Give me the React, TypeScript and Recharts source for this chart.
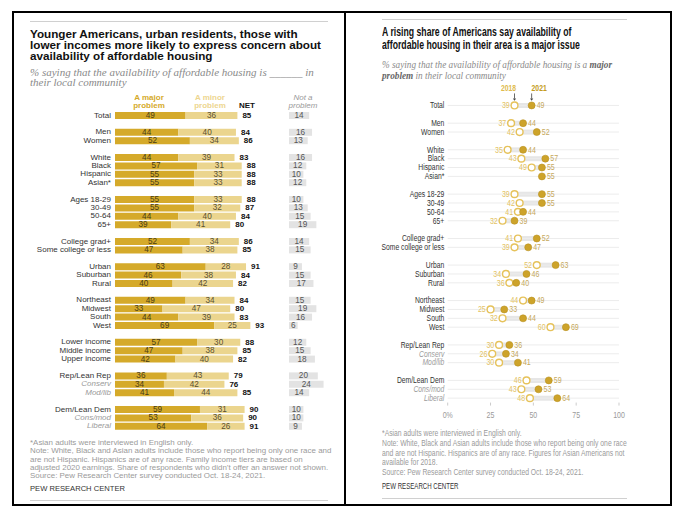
import React from 'react';
import { BarChart, Bar, XAxis, YAxis, LabelList, ComposedChart, Line, ReferenceLine } from 'recharts';

// ---------- Left chart data ----------
const leftLabels = ['Total', 'Men', 'Women', 'White', 'Black', 'Hispanic', 'Asian*', 'Ages 18-29', '30-49', '50-64', '65+', 'College grad+', 'Some college or less', 'Urban', 'Suburban', 'Rural', 'Northeast', 'Midwest', 'South', 'West', 'Lower income', 'Middle income', 'Upper income', 'Rep/Lean Rep', 'Conserv', 'Mod/lib', 'Dem/Lean Dem', 'Cons/mod', 'Liberal'];
const leftGroupSizes = [1, 2, 4, 4, 2, 3, 4, 3, 3, 3];
const majorProblem = [49, 44, 52, 44, 57, 55, 55, 55, 55, 44, 39, 52, 47, 63, 46, 40, 49, 33, 44, 69, 57, 47, 42, 36, 34, 41, 59, 53, 64];
const minorProblem = [36, 40, 34, 39, 31, 33, 33, 33, 32, 40, 41, 34, 38, 28, 38, 42, 34, 47, 39, 25, 30, 38, 40, 43, 42, 44, 31, 36, 26];
const netProblem = [85, 84, 86, 83, 88, 88, 88, 88, 87, 84, 80, 86, 85, 91, 84, 82, 84, 80, 83, 93, 88, 85, 82, 79, 76, 85, 90, 90, 91];
const notProblem = [14, 16, 13, 16, 12, 10, 12, 10, 13, 15, 19, 14, 15, 9, 15, 17, 15, 19, 16, 6, 12, 15, 18, 20, 24, 14, 10, 10, 9];

// ---------- Right chart data ----------
const rightLabels = ['Total', 'Men', 'Women', 'White', 'Black', 'Hispanic', 'Asian*', 'Ages 18-29', '30-49', '50-64', '65+', 'College grad+', 'Some college or less', 'Urban', 'Suburban', 'Rural', 'Northeast', 'Midwest', 'South', 'West', 'Rep/Lean Rep', 'Conserv', 'Mod/lib', 'Dem/Lean Dem', 'Cons/mod', 'Liberal'];
const rightGroupSizes = [1, 2, 4, 4, 2, 3, 4, 3, 3];
const major2018 = [39, 37, 42, 35, 43, 49, null, 39, 42, 41, 32, 41, 39, 52, 34, 36, 44, 25, 32, 60, 30, 26, 30, 46, 43, 48];
const major2021 = [49, 44, 52, 44, 57, 55, 55, 55, 55, 44, 39, 52, 47, 63, 46, 40, 49, 33, 44, 69, 36, 34, 41, 59, 53, 64];
const xTicks = [0, 25, 50, 75, 100];

const italicLabels = ['Conserv', 'Mod/lib', 'Cons/mod', 'Liberal'];

function buildRows(labels: string[], sizes: number[], fields: (i: number) => any) {
  const rows: any[] = [];
  let idx = 0;
  sizes.forEach((s, gi) => {
    if (gi > 0) rows.push({ key: `gap${gi}`, gap: true });
    for (let k = 0; k < s; k++) {
      rows.push({ key: labels[idx], ...fields(idx) });
      idx++;
    }
  });
  return rows;
}

const leftRows = buildRows(leftLabels, leftGroupSizes, (i) => ({
  major: majorProblem[i],
  minor: minorProblem[i],
  net: netProblem[i],
  notp: notProblem[i],
}));

const rightRows = buildRows(rightLabels, rightGroupSizes, (i) => ({
  y2018: major2018[i],
  y2021: major2021[i],
  range: major2018[i] == null ? null : [major2018[i], major2021[i]],
}));

const SANS = "'Liberation Sans', Arial, sans-serif";
const SERIF = "'Liberation Serif', 'DejaVu Serif', serif";
const SX = 0.75; // horizontal compression of the right-hand panel text

const C_MAJOR = '#D5AA2A';
const C_MINOR = '#EBD58E';
const C_NOT = '#E3E3E3';
const C_2018 = '#E6C25A';
const C_2021 = '#CDA32A';

const SText = ({ x, y, sx = SX, children, ...rest }: any) => (
  <text transform={`translate(${x},${y}) scale(${sx},1)`} x={0} y={0} fontFamily={SANS} {...rest}>{children}</text>
);

const LeftTick = (props: any) => {
  const { y, payload } = props;
  const v = String(payload.value);
  if (v.startsWith('gap')) return <g />;
  const it = italicLabels.includes(v);
  return (
    <text x={96} y={y} textAnchor="end" dominantBaseline="central" fontSize={8} fontFamily={SANS}
      fill={it ? '#9a9a9a' : '#333'} fontStyle={it ? 'italic' : 'normal'}>{v}</text>
  );
};

const RightTick = (props: any) => {
  const { y, payload } = props;
  const v = String(payload.value);
  if (v.startsWith('gap')) return <g />;
  const it = italicLabels.includes(v);
  return (
    <SText x={72.3} y={y} sx={0.77} textAnchor="end" dominantBaseline="central" fontSize={8.8}
      fill={it ? '#9a9a9a' : '#333'} fontStyle={it ? 'italic' : 'normal'}>{v}</SText>
  );
};

const XTick = (props: any) => {
  const { x, y, payload } = props;
  const v = Number(payload.value);
  return (
    <SText x={x} y={y} sx={0.78} textAnchor="middle" dy="0.71em" fontSize={9} fill="#9a9a9a">{v === 0 ? '0%' : String(v)}</SText>
  );
};

const CenterLabel = (color: string) => (p: any) => {
  const { x, y, width, height, value } = p;
  if (value == null) return null;
  return (
    <text x={x + width / 2} y={y + height / 2} textAnchor="middle" dominantBaseline="central"
      fontSize={8.2} fontFamily={SANS} fill={color}>{value}</text>
  );
};

const NetLabel = (p: any) => {
  const { x, y, width, height, value } = p;
  if (value == null) return null;
  return (
    <text x={x + width + 5} y={y + height / 2} dominantBaseline="central" fontSize={8} fontWeight="bold"
      fontFamily={SANS} fill="#111">{value}</text>
  );
};

const Arrow = ({ cx, cy }: any) => (
  <g>
    <line x1={cx} x2={cx} y1={cy - 12} y2={cy - 6.8} stroke="#444" strokeWidth={0.8} />
    <polygon points={`${cx - 1.6},${cy - 7} ${cx + 1.6},${cy - 7} ${cx},${cy - 4.6}`} fill="#444" />
  </g>
);

const Dot2018 = (p: any) => {
  const { cx, cy, payload, index } = p;
  if (cx == null || cy == null || payload.y2018 == null) return <g key={`d18-${index}`} />;
  return (
    <g key={`d18-${index}`}>
      <circle cx={cx} cy={cy} r={3.4} fill="#fff" stroke={C_2018} strokeWidth={1.4} />
      <SText x={cx - 4.8} y={cy} sx={0.8} textAnchor="end" dominantBaseline="central" fontSize={8.8} fill="#E3C263">{payload.y2018}</SText>
      {payload.key === 'Total' && (
        <g>
          <Arrow cx={cx} cy={cy} />
          <SText x={cx - 6} y={cy - 17.7} sx={0.72} textAnchor="middle" dominantBaseline="central" fontSize={9.5} fontWeight="bold" fill="#E0BC4E">2018</SText>
        </g>
      )}
    </g>
  );
};

const Dot2021 = (p: any) => {
  const { cx, cy, payload, index } = p;
  if (cx == null || cy == null || payload.y2021 == null) return <g key={`d21-${index}`} />;
  return (
    <g key={`d21-${index}`}>
      <circle cx={cx} cy={cy} r={3.5} fill={C_2021} stroke="#B8911E" strokeWidth={0.6} />
      <SText x={cx + 5} y={cy} sx={0.8} textAnchor="start" dominantBaseline="central" fontSize={8.8} fill="#C5A85C">{payload.y2021}</SText>
      {payload.key === 'Total' && (
        <g>
          <Arrow cx={cx} cy={cy} />
          <SText x={cx + 7.5} y={cy - 17.7} sx={0.72} textAnchor="middle" dominantBaseline="central" fontSize={9.5} fontWeight="bold" fill="#C49C22">2021</SText>
        </g>
      )}
    </g>
  );
};

const abs = (s: React.CSSProperties): React.CSSProperties => ({ position: 'absolute', margin: 0, whiteSpace: 'nowrap', ...s });
const squeeze = (k: number): React.CSSProperties => ({ transform: `scaleX(${k})`, transformOrigin: 'left top' });

export default function App() {
  const leftSlot = 8.4;
  const leftH = leftRows.length * leftSlot;
  const rightSlot = 8.87;
  const rightH = rightRows.length * rightSlot;

  return (
    <div style={{ position: 'absolute', left: 0, top: 0, width: 687, height: 524, background: '#fff', overflow: 'hidden' }}>
      {/* Left panel frame */}
      <div style={abs({ left: 12, top: 11, width: 334, height: 495, border: '2px solid #000', boxSizing: 'border-box' })} />
      {/* Right panel frame */}
      <div style={abs({ left: 344, top: 11, width: 328, height: 495, border: '2px solid #000', boxSizing: 'border-box' })} />

      {/* ---------- LEFT PANEL ---------- */}
      <div style={abs({ left: 30, top: 21, width: 298, height: 1, background: '#d0d0d0' })} />
      <div style={abs({ left: 30, top: 27.5, fontFamily: SANS, fontWeight: 'bold', fontSize: 11.7, lineHeight: '11px', color: '#111' })}>
        Younger Americans, urban residents, those with<br />
        lower incomes more likely to express concern about<br />
        availability of affordable housing
      </div>
      <div style={abs({ left: 30, top: 66.5, fontFamily: SERIF, fontStyle: 'italic', fontSize: 11, lineHeight: '10.5px', color: '#8a8a8a' })}>
        % saying that the availability of affordable housing is ______ in<br />
        their local community
      </div>
      <div style={abs({ left: 124, width: 50, top: 93.7, textAlign: 'center', fontFamily: SANS, fontWeight: 'bold', fontSize: 8, lineHeight: '8px', color: C_MAJOR })}>
        A major<br />problem
      </div>
      <div style={abs({ left: 185, width: 50, top: 93.7, textAlign: 'center', fontFamily: SANS, fontWeight: 'bold', fontSize: 8, lineHeight: '8px', color: '#EDD68F' })}>
        A minor<br />problem
      </div>
      <div style={abs({ left: 232, width: 30, top: 101.7, textAlign: 'center', fontFamily: SANS, fontWeight: 'bold', fontSize: 8, lineHeight: '8px', color: '#111' })}>
        NET
      </div>
      <div style={abs({ left: 278, width: 50, top: 93.7, textAlign: 'center', fontFamily: SANS, fontStyle: 'italic', fontSize: 8, lineHeight: '8px', color: '#9a9a9a' })}>
        Not a<br />problem
      </div>

      <div style={abs({ left: 15, top: 110.8 })}>
        <BarChart layout="vertical" width={274} height={leftH} data={leftRows} margin={{ top: 0, right: 30, bottom: 0, left: 0 }} barSize={7}>
          <XAxis type="number" domain={[0, 100]} hide />
          <YAxis type="category" dataKey="key" width={100} axisLine={false} tickLine={false} tick={LeftTick} interval={0} />
          <Bar dataKey="major" stackId="a" fill={C_MAJOR} isAnimationActive={false}>
            <LabelList dataKey="major" content={CenterLabel('#4a3d14')} />
          </Bar>
          <Bar dataKey="minor" stackId="a" fill={C_MINOR} isAnimationActive={false}>
            <LabelList dataKey="minor" content={CenterLabel('#5a5030')} />
            <LabelList dataKey="net" content={NetLabel} />
          </Bar>
        </BarChart>
      </div>
      <div style={abs({ left: 289, top: 110.8 })}>
        <BarChart layout="vertical" width={50} height={leftH} data={leftRows} margin={{ top: 0, right: 0, bottom: 0, left: 0 }} barSize={7}>
          <XAxis type="number" domain={[0, 50 / 1.44]} hide />
          <YAxis type="category" dataKey="key" hide />
          <Bar dataKey="notp" fill={C_NOT} isAnimationActive={false}>
            <LabelList dataKey="notp" content={CenterLabel('#555')} />
          </Bar>
        </BarChart>
      </div>

      <div style={abs({ left: 30, top: 439.1, fontFamily: SANS, fontSize: 7.95, lineHeight: '8.35px', color: '#9a9a9a' })}>
        *Asian adults were interviewed in English only.<br />
        Note: White, Black and Asian adults include those who report being only one race and<br />
        are not Hispanic. Hispanics are of any race. Family income tiers are based on<br />
        adjusted 2020 earnings. Share of respondents who didn’t offer an answer not shown.<br />
        Source: Pew Research Center survey conducted Oct. 18-24, 2021.
      </div>
      <div style={abs({ left: 30, top: 485, fontFamily: SANS, fontSize: 7.6, lineHeight: '8.6px', color: '#333' })}>
        PEW RESEARCH CENTER
      </div>
      <div style={abs({ left: 30, top: 500, width: 298, height: 1, background: '#d0d0d0' })} />

      {/* ---------- RIGHT PANEL ---------- */}
      <div style={abs({ left: 382, top: 19, width: 245, height: 1, background: '#d0d0d0' })} />
      <div style={abs({ left: 382, top: 26.2, fontFamily: SANS, fontWeight: 'bold', fontSize: 12.8, lineHeight: '12.7px', color: '#111', ...squeeze(0.68) })}>
        A rising share of Americans say availability of<br />
        affordable housing in their area is a major issue
      </div>
      <div style={abs({ left: 382, top: 58.5, fontFamily: SERIF, fontStyle: 'italic', fontSize: 10.6, lineHeight: '11px', color: '#8a8a8a', ...squeeze(0.87) })}>
        % saying that the availability of affordable housing is a <b style={{ color: '#666' }}>major</b><br />
        <b style={{ color: '#666' }}>problem</b> in their local community
      </div>

      <div style={abs({ left: 372, top: 100.6 - 25 })}>
        <ComposedChart layout="vertical" width={272} height={25 + rightH + 30} data={rightRows} margin={{ top: 25, right: 25, bottom: 0, left: 0 }}>
          <XAxis type="number" domain={[0, 100]} ticks={xTicks} height={30} axisLine={false}
            tickLine={{ stroke: '#cccccc' }} tickSize={3} tickMargin={6} interval={0} tick={XTick} />
          <YAxis type="category" dataKey="key" width={75.7} axisLine={false} tickLine={false} tick={RightTick} interval={0} />
          {rightRows.filter((r) => !r.gap).map((r) => (
            <ReferenceLine key={r.key} y={r.key} stroke="#ECECEC" strokeWidth={1} />
          ))}
          <Bar dataKey="range" barSize={5} fill="#E6E6E6" isAnimationActive={false} />
          <Line dataKey="y2018" stroke="none" dot={Dot2018} activeDot={false} isAnimationActive={false} />
          <Line dataKey="y2021" stroke="none" dot={Dot2021} activeDot={false} isAnimationActive={false} />
        </ComposedChart>
      </div>

      <div style={abs({ left: 382, top: 429.2, fontFamily: SANS, fontSize: 8.2, lineHeight: '9.7px', color: '#9a9a9a', ...squeeze(0.83) })}>
        *Asian adults were interviewed in English only.<br />
        Note: White, Black and Asian adults include those who report being only one race<br />
        and are not Hispanic. Hispanics are of any race. Figures for Asian Americans not<br />
        available for 2018.<br />
        Source: Pew Research Center survey conducted Oct. 18-24, 2021.
      </div>
      <div style={abs({ left: 382, top: 482, fontFamily: SANS, fontSize: 8.5, lineHeight: '9.4px', color: '#333', ...squeeze(0.72) })}>
        PEW RESEARCH CENTER
      </div>
      <div style={abs({ left: 382, top: 498, width: 245, height: 1, background: '#d0d0d0' })} />
    </div>
  );
}
